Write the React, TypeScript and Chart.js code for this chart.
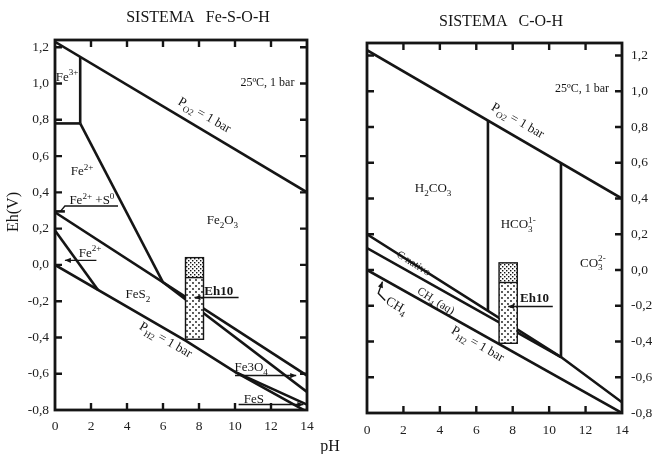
import React, { useEffect, useRef } from 'react';
import { Chart, registerables } from 'chart.js';

Chart.register(...registerables);

const SERIF = '"Liberation Serif", "Times New Roman", serif';
const INK = '#151515';

type Pt = [number, number];
type Mode = 'n' | 'sub' | 'sup' | 'supOver';
type Part = [string, Mode?];
interface Label { x: number; y: number; parts: Part[]; size?: number; angle?: number; bold?: boolean; }
interface Arrow { pts: Pt[]; head: boolean; }

// ---------- axes ----------
const PH_MIN = 0;
const PH_MAX = 14;
const PH_STEP = 2;
const EH_MIN = -0.8;
const EH_STEP = 0.2;
const FE_EH_MAX = 1.24;
const C_EH_MAX = 1.27;

// ---------- Fe-S-O-H boundaries [pH, Eh] ----------
const feO2Line: Pt[] = [[0, 1.23], [14, 0.40]];
const feH2Line: Pt[] = [[0, 0], [7.3, -0.42], [10, -0.59], [14, -0.81]];
const feFe3Floor: Pt[] = [[0, 0.78], [1.4, 0.78]];
const feFe3Wall: Pt[] = [[1.4, 0.78], [1.4, 1.147]];
const feFe2Hematite: Pt[] = [[1.4, 0.78], [6.0, -0.096]];
const feHematiteLine: Pt[] = [[0, 0.29], [14, -0.61]];
const feMagnetiteLine: Pt[] = [[6.0, -0.096], [14, -0.70]];
const fePyriteFe2: Pt[] = [[0, 0.19], [2.4, -0.14]];
const fePyrrhotite: Pt[] = [[10, -0.59], [14, -0.77]];
const feSulfurSliver: Pt[] = [[0, 0.295], [0.55, 0.295]];

// ---------- C-O-H boundaries [pH, Eh] ----------
const cO2Line: Pt[] = [[0, 1.23], [14, 0.40]];
const cH2Line: Pt[] = [[0, 0], [14, -0.80]];
const cGraphiteTop: Pt[] = [[0, 0.20], [10.65, -0.487], [14, -0.74]];
const cMethaneAq: Pt[] = [[0, 0.123], [10.65, -0.487]];
const cH2CO3_HCO3: Pt[] = [[6.64, 0.836], [6.64, -0.228]];
const cHCO3_CO3: Pt[] = [[10.65, 0.598], [10.65, -0.487]];

// ---------- Eh10 sample column ----------
const boxPH: Pt = [7.25, 8.25];
const boxEh = [0.04, -0.07, -0.41]; // top, end of dense part, bottom

// ---------- labels ----------
const PO2: Part[] = [['P'], ['O', 'sub'], ['2', 'sub'], [' = 1 bar']];
const PH2: Part[] = [['P'], ['H', 'sub'], ['2', 'sub'], [' = 1 bar']];

const feLabels: Label[] = [
  { x: 0.67, y: 1.04, parts: [['Fe'], ['3+', 'sup']] },
  { x: 1.5, y: 0.52, parts: [['Fe'], ['2+', 'sup']] },
  { x: 2.05, y: 0.36, parts: [['Fe'], ['2+', 'sup'], [' +S'], ['0', 'sup']] },
  { x: 9.3, y: 0.25, parts: [['Fe'], ['2', 'sub'], ['O'], ['3', 'sub']] },
  { x: 4.6, y: -0.16, parts: [['FeS'], ['2', 'sub']] },
  { x: 11.8, y: 1.01, parts: [['25ºC, 1 bar']], size: 12 },
  { x: 1.95, y: 0.07, parts: [['Fe'], ['2+', 'sup']] },
  { x: 10.9, y: -0.56, parts: [['Fe3O'], ['4', 'sub']] },
  { x: 11.05, y: -0.735, parts: [['FeS']] },
  { x: 9.1, y: -0.14, parts: [['Eh10']], bold: true },
  { x: 8.33, y: 0.83, parts: PO2, angle: 30 },
  { x: 6.17, y: -0.41, parts: PH2, angle: 30 },
];

const feArrows: Arrow[] = [
  { pts: [[2.3, 0.025], [0.55, 0.025]], head: true },
  { pts: [[3.5, 0.325], [0.55, 0.325], [0.3, 0.295]], head: false },
  { pts: [[10.0, -0.61], [13.4, -0.61]], head: true },
  { pts: [[10.2, -0.77], [13.8, -0.77]], head: true },
  { pts: [[10.2, -0.18], [7.75, -0.18]], head: true },
];

const cLabels: Label[] = [
  { x: 3.63, y: 0.46, parts: [['H'], ['2', 'sub'], ['CO'], ['3', 'sub']] },
  { x: 8.3, y: 0.26, parts: [['HCO'], ['3', 'sub'], ['1-', 'supOver']] },
  { x: 12.4, y: 0.045, parts: [['CO'], ['3', 'sub'], ['2-', 'supOver']] },
  { x: 11.8, y: 1.02, parts: [['25ºC, 1 bar']], size: 12 },
  { x: 8.3, y: 0.84, parts: PO2, angle: 30 },
  { x: 6.1, y: -0.41, parts: PH2, angle: 30 },
  { x: 2.58, y: 0.04, parts: [['C nativo']], size: 11, angle: 32 },
  { x: 3.8, y: -0.17, parts: [['CH'], ['4', 'sub'], [' (aq)']], size: 11.5, angle: 32 },
  { x: 1.65, y: -0.196, parts: [['CH'], ['4', 'sub']], angle: 30 },
  { x: 9.2, y: -0.154, parts: [['Eh10']], bold: true },
];

const cArrows: Arrow[] = [
  { pts: [[10.2, -0.204], [7.75, -0.204]], head: true },
  { pts: [[1.0, -0.17], [0.62, -0.13], [0.85, -0.065]], head: true },
];

// ---------- helpers ----------
function fmtEh(v: number) {
  const s = Number(v).toFixed(1).replace('.', ',');
  return s === '-0,0' ? '0,0' : s;
}

function drawRich(ctx: CanvasRenderingContext2D, lab: Label, cx: number, cy: number) {
  const size = lab.size ?? 13;
  const segs = lab.parts.map(([t, m = 'n']) => {
    const s = m === 'n' ? size : size * 0.7;
    const font = `${lab.bold ? 'bold ' : ''}${s}px ${SERIF}`;
    ctx.font = font;
    return { t, m, font, w: ctx.measureText(t).width };
  });
  let total = 0;
  let prevW = 0;
  for (const g of segs) {
    if (g.m === 'supOver') total += Math.max(0, g.w - prevW);
    else total += g.w;
    prevW = g.w;
  }
  ctx.save();
  ctx.translate(cx, cy);
  ctx.rotate(((lab.angle ?? 0) * Math.PI) / 180);
  ctx.fillStyle = INK;
  ctx.textBaseline = 'alphabetic';
  let x = -total / 2;
  let prevStart = x;
  prevW = 0;
  const base = size * 0.35;
  for (const g of segs) {
    let dy = 0;
    if (g.m === 'sub') dy = size * 0.28;
    if (g.m === 'sup' || g.m === 'supOver') dy = -size * 0.42;
    ctx.font = g.font;
    if (g.m === 'supOver') {
      ctx.fillText(g.t, prevStart, base + dy);
      x = prevStart + Math.max(prevW, g.w);
    } else {
      ctx.fillText(g.t, x, base + dy);
      prevStart = x;
      x += g.w;
    }
    prevW = g.w;
  }
  ctx.restore();
}

function makePattern(dense: boolean): CanvasPattern | string {
  const c = document.createElement('canvas');
  const n = dense ? 4 : 6;
  c.width = n; c.height = n;
  const g = c.getContext('2d');
  if (!g) return '#ccc';
  g.fillStyle = '#fdfdfd';
  g.fillRect(0, 0, n, n);
  g.fillStyle = '#111';
  if (dense) {
    g.fillRect(0, 0, 1.4, 1.4);
    g.fillRect(2, 2, 1.4, 1.4);
  } else {
    g.beginPath(); g.arc(1, 1, 0.9, 0, Math.PI * 2); g.fill();
    g.beginPath(); g.arc(4, 4, 0.9, 0, Math.PI * 2); g.fill();
  }
  const ctx = document.createElement('canvas').getContext('2d');
  return (ctx && ctx.createPattern(c, 'repeat')) || '#ccc';
}

interface DiagramSpec {
  lines: Pt[][];
  labels: Label[];
  arrows: Arrow[];
  ehMax: number;
  yPos: 'left' | 'right';
  padding: { left: number; right: number; top: number; bottom: number };
  yWidth: number;
  yPad: number;
  xPad: number;
}

function buildChart(canvas: HTMLCanvasElement, spec: DiagramSpec) {
  const decor = {
    id: 'decor',
    afterDatasetsDraw(chart: any) {
      const ctx: CanvasRenderingContext2D = chart.ctx;
      const xs = chart.scales.x;
      const ys = chart.scales.y;
      const a = chart.chartArea;
      ctx.save();
      ctx.strokeStyle = INK;
      ctx.fillStyle = INK;
      ctx.lineCap = 'butt';
      // frame
      ctx.lineWidth = 2.8;
      ctx.strokeRect(a.left, a.top, a.right - a.left, a.bottom - a.top);
      // inward ticks
      ctx.lineWidth = 2.4;
      const tl = 7;
      for (const t of xs.ticks) {
        if (t.value <= PH_MIN || t.value >= PH_MAX) continue;
        const px = xs.getPixelForValue(t.value);
        ctx.beginPath();
        ctx.moveTo(px, a.bottom); ctx.lineTo(px, a.bottom - tl);
        ctx.moveTo(px, a.top); ctx.lineTo(px, a.top + tl);
        ctx.stroke();
      }
      for (const t of ys.ticks) {
        if (t.value <= EH_MIN) continue;
        const py = ys.getPixelForValue(t.value);
        ctx.beginPath();
        ctx.moveTo(a.left, py); ctx.lineTo(a.left + tl, py);
        ctx.moveTo(a.right, py); ctx.lineTo(a.right - tl, py);
        ctx.stroke();
      }
      // sample column
      const bx0 = xs.getPixelForValue(boxPH[0]);
      const bx1 = xs.getPixelForValue(boxPH[1]);
      const by0 = ys.getPixelForValue(boxEh[0]);
      const by1 = ys.getPixelForValue(boxEh[1]);
      const by2 = ys.getPixelForValue(boxEh[2]);
      ctx.fillStyle = makePattern(true) as any;
      ctx.fillRect(bx0, by0, bx1 - bx0, by1 - by0);
      ctx.fillStyle = makePattern(false) as any;
      ctx.fillRect(bx0, by1, bx1 - bx0, by2 - by1);
      ctx.lineWidth = 1.4;
      ctx.strokeRect(bx0, by0, bx1 - bx0, by2 - by0);
      ctx.beginPath();
      ctx.moveTo(bx0, by1); ctx.lineTo(bx1, by1);
      ctx.stroke();
      // arrows
      ctx.fillStyle = INK;
      ctx.lineWidth = 1.4;
      for (const ar of spec.arrows) {
        const p = ar.pts.map(([x, y]) => [xs.getPixelForValue(x), ys.getPixelForValue(y)]);
        ctx.beginPath();
        ctx.moveTo(p[0][0], p[0][1]);
        for (let i = 1; i < p.length; i++) ctx.lineTo(p[i][0], p[i][1]);
        ctx.stroke();
        if (ar.head) {
          const [x1, y1] = p[p.length - 1];
          const [x0, y0] = p[p.length - 2];
          const ang = Math.atan2(y1 - y0, x1 - x0);
          const L = 6, W = 2.6;
          ctx.beginPath();
          ctx.moveTo(x1, y1);
          ctx.lineTo(x1 - L * Math.cos(ang) + W * Math.sin(ang), y1 - L * Math.sin(ang) - W * Math.cos(ang));
          ctx.lineTo(x1 - L * Math.cos(ang) - W * Math.sin(ang), y1 - L * Math.sin(ang) + W * Math.cos(ang));
          ctx.closePath();
          ctx.fill();
        }
      }
      // labels
      for (const lab of spec.labels) {
        drawRich(ctx, lab, xs.getPixelForValue(lab.x), ys.getPixelForValue(lab.y));
      }
      ctx.restore();
    },
  };

  return new Chart(canvas, {
    type: 'line',
    data: {
      datasets: spec.lines.map((pts) => ({
        data: pts.map(([x, y]) => ({ x, y })),
        borderColor: INK,
        borderWidth: 2.6,
        pointRadius: 0,
        fill: false,
        tension: 0,
      })),
    },
    options: {
      animation: false,
      responsive: false,
      maintainAspectRatio: false,
      layout: { padding: spec.padding },
      plugins: { legend: { display: false }, tooltip: { enabled: false } },
      scales: {
        x: {
          type: 'linear',
          min: PH_MIN,
          max: PH_MAX,
          grid: { display: false, drawTicks: false },
          border: { display: false },
          ticks: { stepSize: PH_STEP, includeBounds: false, padding: spec.xPad, color: '#1e1e1e', font: { family: SERIF, size: 13.5 } },
          afterFit: (s: any) => { s.height = 30; },
        },
        y: {
          type: 'linear',
          position: spec.yPos,
          min: EH_MIN,
          max: spec.ehMax,
          grid: { display: false, drawTicks: false },
          border: { display: false },
          ticks: {
            stepSize: EH_STEP,
            includeBounds: false,
            padding: spec.yPad,
            color: '#1e1e1e',
            font: { family: SERIF, size: 13.5 },
            callback: (v: any) => fmtEh(Number(v)),
          },
          afterFit: (s: any) => { s.width = spec.yWidth; },
        },
      },
    } as any,
    plugins: [decor],
  });
}

const feSpec: DiagramSpec = {
  lines: [feO2Line, feH2Line, feFe3Floor, feFe3Wall, feFe2Hematite, feHematiteLine, feMagnetiteLine, fePyriteFe2, fePyrrhotite, feSulfurSliver],
  labels: feLabels,
  arrows: feArrows,
  ehMax: FE_EH_MAX,
  yPos: 'left',
  padding: { left: 10, right: 347, top: 40, bottom: 14 },
  yWidth: 45,
  yPad: 6,
  xPad: 8,
};

const cSpec: DiagramSpec = {
  lines: [cO2Line, cH2Line, cGraphiteTop, cMethaneAq, cH2CO3_HCO3, cHCO3_CO3],
  labels: cLabels,
  arrows: cArrows,
  ehMax: C_EH_MAX,
  yPos: 'right',
  padding: { left: 367, right: 2, top: 43, bottom: 11 },
  yWidth: 30,
  yPad: 9,
  xPad: 9,
};

function Diagram({ spec }: { spec: DiagramSpec }) {
  const ref = useRef<HTMLCanvasElement | null>(null);
  useEffect(() => {
    if (!ref.current) return;
    const chart = buildChart(ref.current, spec);
    return () => chart.destroy();
  }, [spec]);
  return (
    <canvas
      ref={ref}
      width={654}
      height={454}
      style={{ position: 'absolute', left: 0, top: 0, width: 654, height: 454 }}
    />
  );
}

const textStyle = (cx: number, cy: number, size: number, rot = 0): React.CSSProperties => ({
  position: 'absolute',
  left: cx,
  top: cy,
  transform: `translate(-50%, -50%) rotate(${rot}deg)`,
  fontFamily: SERIF,
  fontSize: size,
  lineHeight: 1,
  whiteSpace: 'pre',
  color: INK,
});

export default function App() {
  return (
    <div style={{ position: 'fixed', left: 0, top: 0, width: 654, height: 454, background: '#ffffff', overflow: 'hidden' }}>
      <Diagram spec={feSpec} />
      <Diagram spec={cSpec} />
      <div style={textStyle(198, 17, 16)}>SISTEMA   Fe-S-O-H</div>
      <div style={textStyle(501, 21, 16)}>SISTEMA   C-O-H</div>
      <div style={textStyle(13, 212, 16, -90)}>Eh(V)</div>
      <div style={textStyle(330, 446, 16)}>pH</div>
    </div>
  );
}
